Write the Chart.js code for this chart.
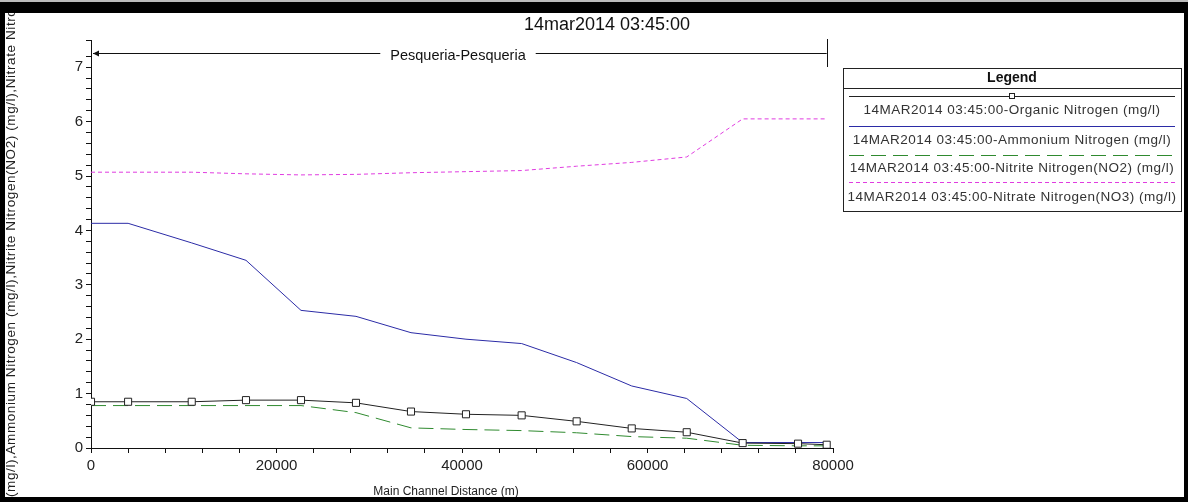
<!DOCTYPE html>
<html lang="en">
<head>
  <meta charset="UTF-8" />
  <title>Pesqueria nitrogen profile</title>
  <script src="https://cdn.jsdelivr.net/npm/chart.js"></script>
  <style>
    html, body { margin: 0; padding: 0; background: #fff; }
    #wrap { width: 1188px; height: 502px; }
  </style>
</head>
<body>
  <div id="wrap"><canvas id="profileChart" width="1188" height="502"></canvas></div>

  <script>
    // profile data (distance in m, concentration in mg/l)
    const distances = [0, 4000, 10860, 16710, 22640, 28570, 34500, 40430, 46430, 52360, 58300, 64230, 70260, 76230, 79320];
    const organicN  = [0.85, 0.85, 0.85, 0.88, 0.88, 0.83, 0.67, 0.62, 0.60, 0.49, 0.36, 0.29, 0.09, 0.08, 0.06];
    const ammoniumN = [4.13, 4.13, 3.77, 3.45, 2.53, 2.42, 2.12, 2.00, 1.92, 1.57, 1.14, 0.91, 0.10, 0.10, 0.10];
    const nitriteN  = [0.78, 0.78, 0.78, 0.78, 0.78, 0.65, 0.37, 0.34, 0.32, 0.28, 0.21, 0.18, 0.05, 0.04, 0.04];
    const nitrateN  = [5.07, 5.07, 5.07, 5.04, 5.02, 5.03, 5.06, 5.08, 5.10, 5.18, 5.25, 5.35, 6.05, 6.05, 6.05];

    const seriesNames = [
      '14MAR2014 03:45:00-Organic Nitrogen (mg/l)',
      '14MAR2014 03:45:00-Ammonium Nitrogen (mg/l)',
      '14MAR2014 03:45:00-Nitrite Nitrogen(NO2) (mg/l)',
      '14MAR2014 03:45:00-Nitrate Nitrogen(NO3) (mg/l)'
    ];
    const xTickLabels = [0, 20000, 40000, 60000, 80000];
    const yTickLabels = [0, 1, 2, 3, 4, 5, 6, 7];

    const chartTitle = '14mar2014 03:45:00';
    const reachName = 'Pesqueria-Pesqueria';
    const xTitle = 'Main Channel Distance (m)';
    const yTitle = 'Organic Nitrogen (mg/l),Ammonium Nitrogen (mg/l),Nitrite Nitrogen(NO2) (mg/l),Nitrate Nitrogen(NO3) (mg/l)';

    const FONT = '"Liberation Sans", Arial, sans-serif';

    function pts(values) {
      return distances.map((d, i) => ({ x: d, y: values[i] }));
    }

    // titles, reach arrow, boxed legend and the black frame
    const decorations = {
      id: 'decorations',
      afterDraw(chart) {
        const ctx = chart.ctx;
        const xs = chart.scales.x;
        ctx.save();

        // title
        ctx.fillStyle = '#111';
        ctx.font = '18px ' + FONT;
        ctx.textAlign = 'center';
        ctx.textBaseline = 'middle';
        ctx.fillText(chartTitle, 607, 25);

        // reach arrow
        const x0 = xs.getPixelForValue(distances[0]);
        const x1 = xs.getPixelForValue(distances[distances.length - 1]);
        const ya = 53;
        ctx.font = '14.5px ' + FONT;
        const tw = ctx.measureText(reachName).width;
        const tc = 458;
        ctx.strokeStyle = '#111';
        ctx.lineWidth = 1;
        ctx.beginPath();
        ctx.moveTo(x0 + 2, ya + 0.5); ctx.lineTo(tc - tw / 2 - 10, ya + 0.5);
        ctx.moveTo(tc + tw / 2 + 10, ya + 0.5); ctx.lineTo(x1, ya + 0.5);
        ctx.moveTo(Math.round(x1) + 0.5, 39); ctx.lineTo(Math.round(x1) + 0.5, 67);
        ctx.stroke();
        ctx.beginPath();
        ctx.moveTo(x0 + 2, ya + 0.5);
        ctx.lineTo(x0 + 8, ya - 2.5);
        ctx.lineTo(x0 + 8, ya + 3.5);
        ctx.closePath();
        ctx.fillStyle = '#111';
        ctx.fill();
        ctx.fillText(reachName, tc, ya + 3);

        // axis titles
        ctx.fillStyle = '#222';
        ctx.font = '12px ' + FONT;
        ctx.textAlign = 'center';
        ctx.fillText(xTitle, 446, 492);

        ctx.save();
        ctx.font = '13.5px ' + FONT;
        ctx.letterSpacing = '0.6px';
        const hidden = ctx.measureText('Organic Nitrogen ').width;
        ctx.translate(11, 497 + hidden);
        ctx.rotate(-Math.PI / 2);
        ctx.textAlign = 'left';
        ctx.textBaseline = 'middle';
        ctx.fillText(yTitle, 0, 0);
        ctx.letterSpacing = '0px';
        ctx.restore();

        // legend box
        const lx = 843, lr = 1181, lt = 68, lb = 211;
        ctx.fillStyle = '#fff';
        ctx.fillRect(lx, lt, lr - lx, lb - lt);
        ctx.strokeStyle = '#222';
        ctx.lineWidth = 1;
        ctx.setLineDash([]);
        ctx.strokeRect(lx + 0.5, lt + 0.5, lr - lx, lb - lt);
        ctx.beginPath();
        ctx.moveTo(lx, 88.5); ctx.lineTo(lr, 88.5);
        ctx.stroke();
        ctx.fillStyle = '#111';
        ctx.font = 'bold 14px ' + FONT;
        ctx.textAlign = 'center';
        ctx.fillText('Legend', (lx + lr) / 2, 78);

        const sampleY = [96, 126, 155, 182];
        const textY = [110, 140, 168, 197];
        chart.data.datasets.forEach((ds, i) => {
          ctx.strokeStyle = ds.borderColor;
          ctx.lineWidth = ds.borderWidth;
          ctx.setLineDash(ds.borderDash || []);
          ctx.beginPath();
          ctx.moveTo(lx + 6, sampleY[i] + 0.5);
          ctx.lineTo(lr - 6, sampleY[i] + 0.5);
          ctx.stroke();
          ctx.setLineDash([]);
          if (ds.pointRadius > 0) {
            ctx.fillStyle = '#fff';
            ctx.fillRect(1009.5, sampleY[i] - 2.5, 5, 5);
            ctx.strokeStyle = ds.pointBorderColor;
            ctx.strokeRect(1009.5, sampleY[i] - 2.5, 5, 5);
          }
          ctx.fillStyle = '#333';
          ctx.font = '13.5px ' + FONT;
          ctx.letterSpacing = '0.5px';
          ctx.fillText(ds.label, (lx + lr) / 2, textY[i]);
          ctx.letterSpacing = '0px';
        });

        // frame
        ctx.fillStyle = '#000';
        ctx.fillRect(0, 2, 1188, 11);
        ctx.fillRect(0, 0, 5, 502);
        ctx.fillRect(0, 497, 1188, 5);
        ctx.fillRect(1184, 0, 4, 502);
        ctx.fillStyle = '#bbb';
        ctx.fillRect(0, 0, 1188, 2);
        ctx.restore();
      }
    };

    const ctx = document.getElementById('profileChart').getContext('2d');
    const profileChart = new Chart(ctx, {
      type: 'line',
      data: {
        datasets: [
          {
            label: seriesNames[0],
            data: pts(organicN),
            borderColor: '#222',
            borderWidth: 1,
            pointStyle: 'rect',
            pointRadius: 5,
            pointBackgroundColor: '#fff',
            pointBorderColor: '#222',
            pointBorderWidth: 1,
            tension: 0
          },
          {
            label: seriesNames[1],
            data: pts(ammoniumN),
            borderColor: '#2b2ba6',
            borderWidth: 1,
            pointRadius: 0,
            tension: 0
          },
          {
            label: seriesNames[2],
            data: pts(nitriteN),
            borderColor: '#2f8a2f',
            borderWidth: 1,
            borderDash: [15, 7],
            pointRadius: 0,
            tension: 0
          },
          {
            label: seriesNames[3],
            data: pts(nitrateN),
            borderColor: '#e03ce0',
            borderWidth: 1,
            borderDash: [4, 3],
            pointRadius: 0,
            tension: 0
          }
        ]
      },
      options: {
        responsive: false,
        animation: false,
        layout: { padding: { top: 40, right: 355, left: 0, bottom: 0 } },
        plugins: {
          legend: { display: false },
          tooltip: { enabled: false }
        },
        scales: {
          x: {
            type: 'linear',
            min: 0,
            max: 80000,
            afterFit(scale) { scale.height = 54; },
            border: { display: true, color: '#111', width: 1 },
            grid: { drawOnChartArea: false, drawTicks: true, tickLength: 5, tickColor: '#111' },
            ticks: {
              stepSize: 4000,
              autoSkip: false,
              maxRotation: 0,
              padding: 4,
              color: '#222',
              font: { family: FONT, size: 15 },
              callback: (v) => xTickLabels.includes(v) ? String(v) : ''
            }
          },
          y: {
            min: 0,
            max: 7.5,
            afterFit(scale) { scale.width = 91; },
            border: { display: true, color: '#111', width: 1 },
            grid: { drawOnChartArea: false, drawTicks: true, tickLength: 5, tickColor: '#111' },
            ticks: {
              stepSize: 0.2,
              autoSkip: false,
              padding: 3,
              color: '#222',
              font: { family: FONT, size: 15 },
              callback: (v) => {
                const r = Math.round(v);
                return Math.abs(v - r) < 1e-6 && yTickLabels.includes(r) ? String(r) : '';
              }
            }
          }
        }
      },
      plugins: [decorations]
    });
  </script>
</body>
</html>
